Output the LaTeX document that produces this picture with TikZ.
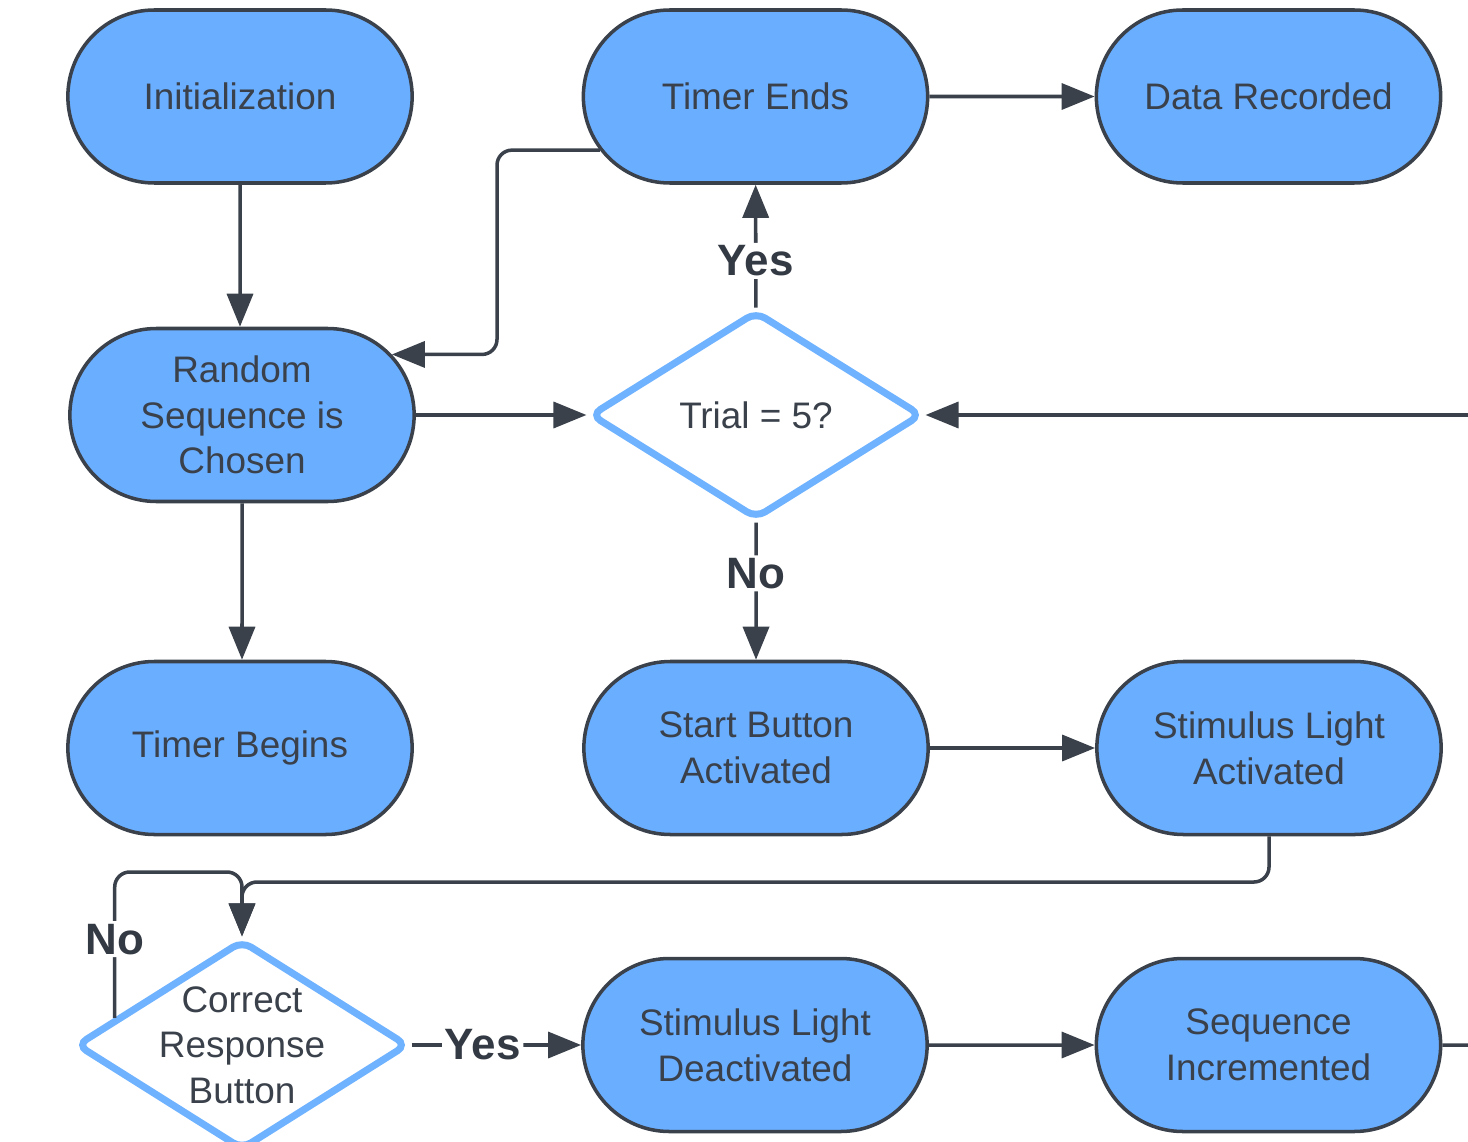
\documentclass[tikz,border=0pt]{standalone}
\usepackage{fontspec}
\setmainfont{Liberation Sans}
\usepackage{xcolor}
\usepackage{tikz}
\usetikzlibrary{shapes}
\usetikzlibrary{shapes.geometric}
\usetikzlibrary{arrows.meta}

\definecolor{boxblue}{HTML}{6AAEFF}
\definecolor{lineblue}{HTML}{6FB2FF}
\definecolor{ink}{HTML}{3A414B}

\begin{document}
\begin{tikzpicture}[
	line width=2pt,
	font=\fontsize{21}{26}\selectfont,
	text=ink
]
\tikzset{
    stepnode/.style = {rounded rectangle, draw=ink, fill=boxblue, align=center, line width=2pt, minimum width=7.12cm, minimum height=3.46cm},
		choicenode/.style = {diamond, draw=lineblue, fill=white, align=center, line width=4pt, rounded corners=6pt, inner sep=0pt, minimum width=6.64cm, minimum height=4.16cm},
		link/.style = {draw=ink, rounded corners=0.3cm, -{Triangle[length=0.66cm,width=0.52cm]}},
		answer/.style = {fill=white, inner sep=1.5pt, text=ink!90!black, font=\fontsize{25}{30}\selectfont\bfseries}
}
\useasboundingbox (0,0) rectangle (29.36,-22.84);

\node[stepnode] (init)   at (4.8,-1.93)  {Initialization};
\node[stepnode] (tend)   at (15.11,-1.93) {Timer Ends};
\node[stepnode] (data)   at (25.37,-1.93) {Data Recorded};
\node[stepnode] (rand)   at (4.84,-8.3)   {Random\\Sequence is\\Chosen};
\node[choicenode] (trial) at (15.12,-8.3) {Trial = 5?};
\node[stepnode] (tbeg)   at (4.8,-14.96) {Timer Begins};
\node[stepnode] (sbtn)   at (15.12,-14.96) {Start Button\\Activated};
\node[stepnode] (slon)   at (25.38,-14.96) {Stimulus Light\\Activated};
\node[choicenode, minimum height=4.2cm,
	label={[align=center]center:Correct\\Response\\Button}] (corr) at (4.84,-20.9) {};
\node[stepnode] (sloff)  at (15.1,-20.9) {Stimulus Light\\Deactivated};
\node[stepnode] (seqinc) at (25.37,-20.9) {Sequence\\Incremented};

\coordinate (jog) at (9.94,0);
\coordinate (split) at (4.84,-17.64);
\coordinate (looptop) at (4.84,-17.44);
\coordinate (backin) at (29.36,-8.3);
\coordinate (backout) at (29.36,-20.9);

\draw[link] (init) -- (init |- rand.north);
\draw[link] (tend.199) -- (tend.199 -| jog) -- (rand.22 -| jog) -- (rand.22);
\draw[link] (tend) -- (data);
\draw[link] (rand) -- (trial);
\draw[link] (rand) -- (rand |- tbeg.north);
\draw[link] (trial) -- node[answer, pos=0.38] {Yes} (tend);
\draw[link] (trial) -- node[answer, pos=0.37] {No} (sbtn);
\draw[link] (backin) -- (trial);
\draw[link] (sbtn) -- (slon);
\draw[link] (slon.south) |- (split) -- (corr.north);
\draw[link] (corr.168) |- node[answer, pos=0.27] {No} (looptop) -- (corr.north);
\draw[link] (corr) -- node[answer, pos=0.42] {Yes} (sloff);
\draw[link] (sloff) -- (seqinc);
\draw[draw=ink] (seqinc) -- (backout);
\end{tikzpicture}
\end{document}
